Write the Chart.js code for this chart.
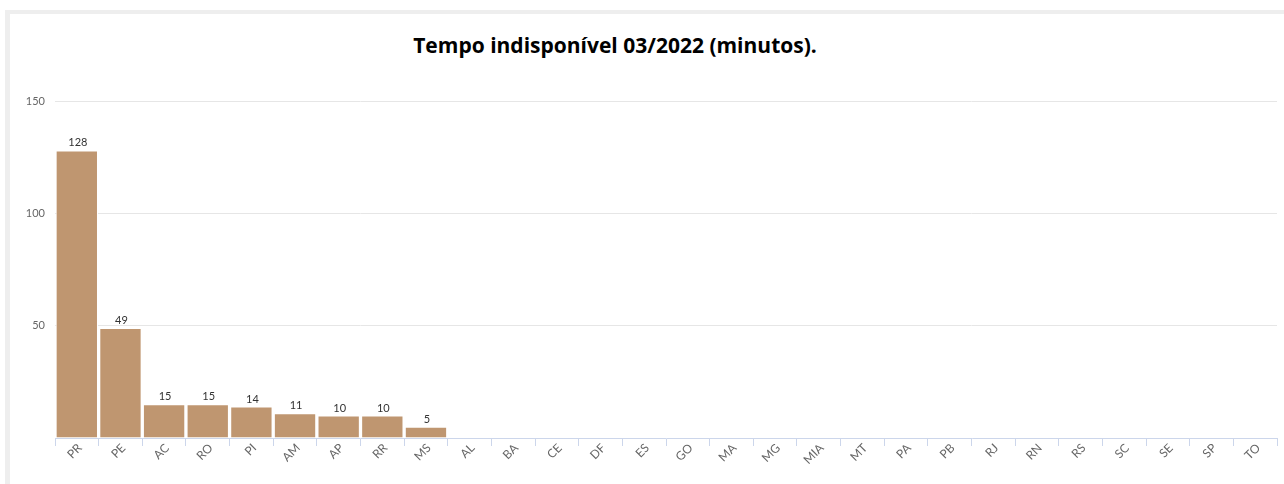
<!DOCTYPE html>
<html>
<head>
<meta charset="utf-8">
<script src="https://cdn.jsdelivr.net/npm/chart.js@4/dist/chart.umd.min.js"></script>
<style>
  body { margin: 0; background: #fff; font-family: Lato, "Open Sans", sans-serif; }
  #frame {
    position: absolute; left: 5px; top: 10px; width: 1279px; height: 474px;
    border-top: 4px solid #eeeeee; border-left: 5px solid #eeeeee; box-sizing: border-box;
  }
  #title {
    position: absolute; left: 0; top: 31px; width: 1230px; text-align: center; line-height: 28px;
    font-weight: bold; font-size: 21px; font-family: "Open Sans", Lato, sans-serif; color: #000;
  }
  #wrap { position: absolute; left: 10px; top: 14px; width: 1274px; height: 470px; }
</style>
</head>
<body>
<div id="frame"></div>
<div id="title">Tempo indisponível 03/2022 (minutos).</div>
<div id="wrap"><canvas id="chart"></canvas></div>
<script>
// estados (UF)
const categories = ["PR", "PE", "AC", "RO", "PI", "AM", "AP", "RR", "MS", "AL", "BA", "CE", "DF", "ES",
  "GO", "MA", "MG", "MIA", "MT", "PA", "PB", "RJ", "RN", "RS", "SC", "SE", "SP", "TO"];
// minutos indisponíveis
const minutes = [128, 49, 15, 15, 14, 11, 10, 10, 5, 0, 0, 0, 0, 0,
  0, 0, 0, 0, 0, 0, 0, 0, 0, 0, 0, 0, 0, 0];
const yTicks = [50, 100, 150];

const labelFont = "11px Lato, 'Open Sans', sans-serif";

// ---------- VALUE LABELS ----------
const valueLabels = {
  id: "valueLabels",
  afterDatasetsDraw(chart) {
    const ctx = chart.ctx;
    const meta = chart.getDatasetMeta(0);
    ctx.save();
    ctx.font = labelFont;
    ctx.fillStyle = "#333";
    ctx.textAlign = "center";
    ctx.textBaseline = "bottom";
    meta.data.forEach((bar, i) => {
      const v = chart.data.datasets[0].data[i];
      if (!v) return;
      ctx.fillText(String(v), bar.x + 1, bar.y - 2);
    });
    ctx.restore();
  }
};

// ---------- ROTATED CATEGORY LABELS ----------
const slantLabels = {
  id: "slantLabels",
  afterDraw(chart) {
    const ctx = chart.ctx;
    const xs = chart.scales.x;
    ctx.save();
    ctx.font = "12px Lato, 'Open Sans', sans-serif";
    ctx.fillStyle = "#666";
    ctx.textAlign = "right";
    ctx.textBaseline = "middle";
    chart.data.labels.forEach((lab, i) => {
      ctx.save();
      ctx.translate(xs.getPixelForTick(i) + 3, xs.top + 8);
      ctx.rotate(-Math.PI / 4);
      ctx.fillText(lab, 0, 0);
      ctx.restore();
    });
    ctx.restore();
  }
};

new Chart(document.getElementById("chart"), {
  type: "bar",
  data: {
    labels: categories,
    datasets: [{
      data: minutes,
      backgroundColor: "#bf9670",
      borderColor: "#ffffff",
      borderWidth: 1,
      borderSkipped: "bottom",
      barPercentage: 0.97,
      categoryPercentage: 1
    }]
  },
  options: {
    responsive: true,
    maintainAspectRatio: false,
    animation: false,
    layout: { padding: { top: 87, right: 7, left: 0, bottom: 0 } },
    plugins: { legend: { display: false }, tooltip: { enabled: false } },
    scales: {
      x: {
        afterFit: (scale) => { scale.height = 46; },
        grid: {
          offset: true, drawOnChartArea: false, drawTicks: true,
          tickLength: 8, color: "#ccd6eb"
        },
        border: { color: "#ccd6eb", width: 1 },
        ticks: { color: "rgba(0,0,0,0)", font: { size: 11 } }
      },
      y: {
        min: 0, max: 150,
        afterFit: (scale) => { scale.width = 45; },
        afterBuildTicks: (scale) => { scale.ticks = [0].concat(yTicks).map(v => ({ value: v })); },
        border: { display: false },
        grid: {
          drawTicks: false,
          color: (c) => c.tick && c.tick.value === 0 ? "rgba(0,0,0,0)" : "#e6e6e6"
        },
        ticks: {
          color: "#666", padding: 10,
          font: { family: "Lato, 'Open Sans', sans-serif", size: 11 },
          callback: (v) => v === 0 ? "" : v
        }
      }
    }
  },
  plugins: [valueLabels, slantLabels]
});
</script>
</body>
</html>
